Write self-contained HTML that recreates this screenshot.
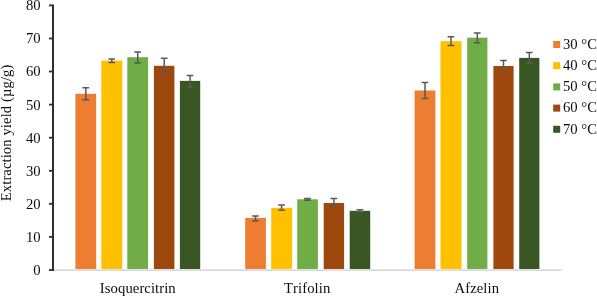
<!DOCTYPE html>
<html><head><meta charset="utf-8"><title>Extraction yield chart</title>
<style>
html,body{margin:0;padding:0;background:#fff;}
svg{display:block;}
text{font-family:"Liberation Serif","Times New Roman",serif;font-size:14.67px;fill:#0d0d0d;font-kerning:none;}
</style></head><body>
<svg width="597" height="297" viewBox="0 0 597 297">
<rect width="597" height="297" fill="#fff"/>
<rect x="53" y="269.4" width="508.5" height="1.5" fill="#D4D4D4"/>
<rect x="75.4" y="93.8" width="20.8" height="175.2" fill="#ED7D31"/>
<rect x="101.3" y="60.7" width="21.0" height="208.3" fill="#FFC000"/>
<rect x="127.3" y="57.2" width="20.8" height="211.8" fill="#70AD47"/>
<rect x="153.9" y="65.8" width="20.5" height="203.2" fill="#9E480E"/>
<rect x="179.9" y="80.9" width="20.3" height="188.1" fill="#385723"/>
<path d="M85.8 87.7V99.8M82.4 87.7h6.7M82.4 99.8h6.7" stroke="#595959" stroke-width="1.5" fill="none"/>
<path d="M111.8 58.9V62.5M108.4 58.9h6.7M108.4 62.5h6.7" stroke="#595959" stroke-width="1.5" fill="none"/>
<path d="M137.7 52.0V63.0M134.3 52.0h6.7M134.3 63.0h6.7" stroke="#595959" stroke-width="1.5" fill="none"/>
<path d="M164.2 58.2V72.3M160.8 58.2h6.7M160.8 72.3h6.7" stroke="#595959" stroke-width="1.5" fill="none"/>
<path d="M190.1 75.6V87.0M186.7 75.6h6.7M186.7 87.0h6.7" stroke="#595959" stroke-width="1.5" fill="none"/>
<rect x="245.2" y="217.9" width="20.7" height="51.1" fill="#ED7D31"/>
<rect x="271.2" y="207.8" width="20.9" height="61.2" fill="#FFC000"/>
<rect x="297.2" y="199.3" width="20.7" height="69.7" fill="#70AD47"/>
<rect x="323.7" y="203.0" width="20.4" height="66.0" fill="#9E480E"/>
<rect x="349.7" y="210.8" width="20.5" height="58.2" fill="#385723"/>
<path d="M255.5 215.9V221.0M252.1 215.9h6.7M252.1 221.0h6.7" stroke="#595959" stroke-width="1.5" fill="none"/>
<path d="M281.6 205.0V210.3M278.2 205.0h6.7M278.2 210.3h6.7" stroke="#595959" stroke-width="1.5" fill="none"/>
<path d="M307.5 198.5V200.3M304.1 198.5h6.7M304.1 200.3h6.7" stroke="#595959" stroke-width="1.5" fill="none"/>
<path d="M333.9 198.4V206.5M330.5 198.4h6.7M330.5 206.5h6.7" stroke="#595959" stroke-width="1.5" fill="none"/>
<path d="M359.9 209.8V212.1M356.6 209.8h6.7M356.6 212.1h6.7" stroke="#595959" stroke-width="1.5" fill="none"/>
<rect x="414.6" y="90.5" width="20.8" height="178.5" fill="#ED7D31"/>
<rect x="440.5" y="41.2" width="21.0" height="227.8" fill="#FFC000"/>
<rect x="467.2" y="37.7" width="20.2" height="231.3" fill="#70AD47"/>
<rect x="493.4" y="66.0" width="20.2" height="203.0" fill="#9E480E"/>
<rect x="519.2" y="57.9" width="20.2" height="211.1" fill="#385723"/>
<path d="M425.0 82.6V98.4M421.6 82.6h6.7M421.6 98.4h6.7" stroke="#595959" stroke-width="1.5" fill="none"/>
<path d="M451.0 36.7V45.5M447.6 36.7h6.7M447.6 45.5h6.7" stroke="#595959" stroke-width="1.5" fill="none"/>
<path d="M477.3 33.0V42.7M473.9 33.0h6.7M473.9 42.7h6.7" stroke="#595959" stroke-width="1.5" fill="none"/>
<path d="M503.5 60.4V70.3M500.1 60.4h6.7M500.1 70.3h6.7" stroke="#595959" stroke-width="1.5" fill="none"/>
<path d="M529.3 52.6V62.9M525.9 52.6h6.7M525.9 62.9h6.7" stroke="#595959" stroke-width="1.5" fill="none"/>
<rect x="52" y="4.6" width="2" height="266.4" fill="#2e2e2e"/>
<rect x="49" y="269.1" width="4" height="1.8" fill="#2e2e2e"/>
<text x="40.6" y="274.9" text-anchor="end">0</text>
<rect x="49" y="236.0" width="4" height="1.8" fill="#2e2e2e"/>
<text x="40.6" y="241.8" text-anchor="end">10</text>
<rect x="49" y="202.9" width="4" height="1.8" fill="#2e2e2e"/>
<text x="40.6" y="208.8" text-anchor="end">20</text>
<rect x="49" y="169.9" width="4" height="1.8" fill="#2e2e2e"/>
<text x="40.6" y="175.7" text-anchor="end">30</text>
<rect x="49" y="136.8" width="4" height="1.8" fill="#2e2e2e"/>
<text x="40.6" y="142.6" text-anchor="end">40</text>
<rect x="49" y="103.7" width="4" height="1.8" fill="#2e2e2e"/>
<text x="40.6" y="109.5" text-anchor="end">50</text>
<rect x="49" y="70.6" width="4" height="1.8" fill="#2e2e2e"/>
<text x="40.6" y="76.4" text-anchor="end">60</text>
<rect x="49" y="37.6" width="4" height="1.8" fill="#2e2e2e"/>
<text x="40.6" y="43.4" text-anchor="end">70</text>
<rect x="49" y="4.5" width="4" height="1.8" fill="#2e2e2e"/>
<text x="40.6" y="10.3" text-anchor="end">80</text>
<text x="137.8" y="292.6" text-anchor="middle" letter-spacing="0.08">Isoquercitrin</text>
<text x="307.2" y="292.6" text-anchor="middle" letter-spacing="0.08">Trifolin</text>
<text x="476.8" y="292.6" text-anchor="middle" letter-spacing="0.08">Afzelin</text>
<text transform="translate(11.3,132.9) rotate(-90)" text-anchor="middle" letter-spacing="0.09">Extraction yield (µg/g)</text>
<rect x="553.2" y="41.0" width="7" height="7" fill="#ED7D31"/>
<text x="563" y="48.7">30 °C</text>
<rect x="553.2" y="62.2" width="7" height="7" fill="#FFC000"/>
<text x="563" y="69.9">40 °C</text>
<rect x="553.2" y="83.4" width="7" height="7" fill="#70AD47"/>
<text x="563" y="91.1">50 °C</text>
<rect x="553.2" y="104.6" width="7" height="7" fill="#9E480E"/>
<text x="563" y="112.3">60 °C</text>
<rect x="553.2" y="125.8" width="7" height="7" fill="#385723"/>
<text x="563" y="133.5">70 °C</text>
</svg>
</body></html>
